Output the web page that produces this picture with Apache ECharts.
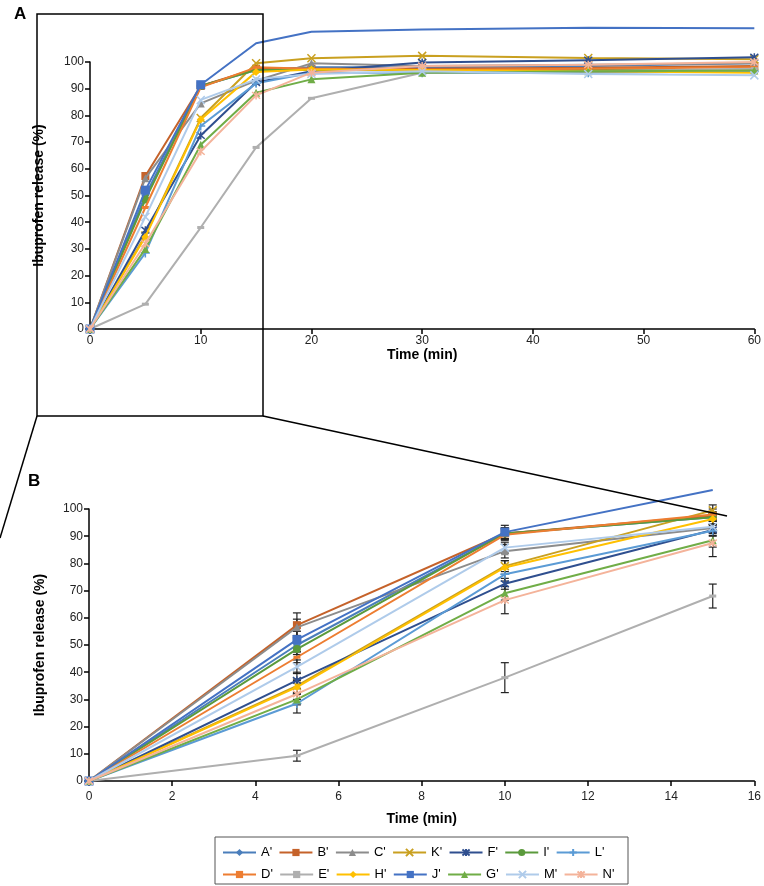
<!DOCTYPE html>
<html><head><meta charset="utf-8">
<script src="https://cdn.jsdelivr.net/npm/echarts@6/dist/echarts.min.js"></script>
<style>html,body{margin:0;padding:0;background:#fff}#c{width:764px;height:886px}</style>
</head><body><div id="c"></div>
<script>
// Time points (min)
const timesA = [0, 5, 10, 15, 20, 30, 45, 60];
const timesB = [0, 5, 10, 15];
const xTicksA = [0, 10, 20, 30, 40, 50, 60];
const xTicksB = [0, 2, 4, 6, 8, 10, 12, 14, 16];

// Legend order (two rows)
const legendRow1 = ["A'", "B'", "C'", "K'", "F'", "I'", "L'"];
const legendRow2 = ["D'", "E'", "H'", "J'", "G'", "M'", "N'"];

// Release (%) at timesA
const relA = [0, 50.0, 91.0, 97.0, 98.0, 98.0, 98.5, 99.5];
const relB = [0, 57.3, 91.0, 97.5, 97.5, 97.5, 97.8, 98.5];
const relC = [0, 56.5, 84.5, 93.0, 99.5, 98.5, 99.0, 99.5];
const relK = [0, 35.0, 79.0, 99.5, 101.4, 102.3, 101.5, 101.0];
const relF = [0, 37.0, 72.5, 92.3, 96.5, 99.8, 100.7, 101.8];
const relI = [0, 48.5, 91.0, 97.0, 97.0, 97.0, 97.0, 97.0];
const relL = [0, 28.5, 76.0, 92.0, 96.0, 96.0, 96.0, 96.5];
const relD = [0, 45.5, 90.5, 98.0, 97.5, 97.0, 97.5, 98.0];
const relE = [0, 9.3, 38.0, 68.0, 86.4, 96.0, 96.5, 97.5];
const relH = [0, 34.5, 78.5, 96.3, 97.2, 97.0, 96.5, 96.0];
const relJ = [0, 52.0, 91.5, 107.0, 111.3, 112.2, 112.8, 112.6];
const relG = [0, 30.0, 69.0, 88.5, 93.5, 96.0, 96.5, 96.8];
const relM = [0, 42.0, 85.8, 93.5, 95.5, 96.5, 95.5, 95.0];
const relN = [0, 32.0, 66.5, 87.5, 96.0, 98.5, 99.0, 100.0];

// Error (± %) at timesB
const errA = [0, 2.5, 2.0, 1.5];
const errB = [0, 4.5, 2.0, 1.5];
const errC = [0, 3.0, 2.5, 1.5];
const errK = [0, 2.5, 2.0, 2.0];
const errF = [0, 3.0, 2.0, 2.0];
const errI = [0, 2.0, 2.0, 1.5];
const errL = [0, 3.5, 2.5, 2.0];
const errD = [0, 2.0, 2.0, 2.0];
const errE = [0, 2.0, 5.5, 4.4];
const errH = [0, 2.5, 2.5, 2.0];
const errJ = [0, 3.0, 2.5, 0];
const errG = [0, 2.0, 2.5, 2.5];
const errM = [0, 2.5, 2.0, 2.0];
const errN = [0, 2.0, 5.0, 5.0];

const P_X = 'path://M0,0L10,10M10,0L0,10';
const P_PLUS = 'path://M5,0L5,10M0,5L10,5';
const P_AST = 'path://M0,0L10,10M10,0L0,10M5,-1L5,11';
const P_DASH = 'path://M0,0L10,0L10,3L0,3Z';

const defs = [
  {name: "A'", rel: relA, err: errA, color: '#4A7EBB', symbol: 'diamond', size: 8},
  {name: "B'", rel: relB, err: errB, color: '#C5622A', symbol: 'rect', size: 8},
  {name: "C'", rel: relC, err: errC, color: '#8C8C8C', symbol: 'triangle', size: 8},
  {name: "K'", rel: relK, err: errK, color: '#C9A020', symbol: P_X, size: 8, stroke: true},
  {name: "F'", rel: relF, err: errF, color: '#2F4F8F', symbol: P_AST, size: 8, stroke: true},
  {name: "I'", rel: relI, err: errI, color: '#5B9A3C', symbol: 'circle', size: 8},
  {name: "L'", rel: relL, err: errL, color: '#5B9BD5', symbol: P_PLUS, size: 9, stroke: true},
  {name: "D'", rel: relD, err: errD, color: '#ED7D31', symbol: P_DASH, size: [7, 3]},
  {name: "E'", rel: relE, err: errE, color: '#AFAFAF', symbol: P_DASH, size: [7, 3]},
  {name: "H'", rel: relH, err: errH, color: '#FFC000', symbol: 'diamond', size: 8},
  {name: "J'", rel: relJ, err: errJ, color: '#4472C4', symbol: 'rect', size: 9, markUntil: 3},
  {name: "G'", rel: relG, err: errG, color: '#70AD47', symbol: 'triangle', size: 8},
  {name: "M'", rel: relM, err: errM, color: '#AFCBEA', symbol: P_X, size: 8, stroke: true},
  {name: "N'", rel: relN, err: errN, color: '#F4B39A', symbol: P_AST, size: 8, stroke: true}
];

const series = [];
function buildData(d, times) {
  return times.map((t, i) => {
    const item = {value: [t, d.rel[i]]};
    if (d.markUntil !== undefined && i >= d.markUntil) item.symbol = 'none';
    return item;
  });
}
defs.forEach((d, k) => {
  const common = {
    name: d.name, type: 'line', symbol: d.symbol, symbolSize: d.size,
    clip: false, animation: false, z: 3 + k * 0.01,
    lineStyle: {color: d.color, width: 2},
    itemStyle: d.stroke ? {color: d.color, borderColor: d.color, borderWidth: 1.5}
                        : {color: d.color, borderColor: d.color, borderWidth: 0},
    emphasis: {disabled: true}
  };
  series.push(Object.assign({}, common, {xAxisIndex: 0, yAxisIndex: 0, data: buildData(d, timesA)}));
  series.push(Object.assign({}, common, {xAxisIndex: 1, yAxisIndex: 1, data: buildData(d, timesB)}));
});

// error bars (panel B)
const errRows = [];
defs.forEach(d => timesB.forEach((t, i) => { if (d.err[i] > 0) errRows.push([t, d.rel[i], d.err[i]]); }));
series.push({
  name: 'errorbars', type: 'custom', xAxisIndex: 1, yAxisIndex: 1, z: 2, animation: false,
  data: errRows,
  renderItem: function (params, api) {
    const x = api.value(0), y = api.value(1), e = api.value(2);
    const top = api.coord([x, y + e]), bot = api.coord([x, y - e]);
    const w = 4, st = {stroke: '#222', lineWidth: 1.2};
    return {type: 'group', children: [
      {type: 'line', shape: {x1: top[0], y1: top[1], x2: bot[0], y2: bot[1]}, style: st},
      {type: 'line', shape: {x1: top[0] - w, y1: top[1], x2: top[0] + w, y2: top[1]}, style: st},
      {type: 'line', shape: {x1: bot[0] - w, y1: bot[1], x2: bot[0] + w, y2: bot[1]}, style: st}
    ]};
  }
});

const axisLbl = {color: '#222', fontSize: 12, fontFamily: 'Liberation Sans, Arial, sans-serif'};
const nameSt = {color: '#000', fontSize: 14, fontWeight: 'bold', fontFamily: 'Liberation Sans, Arial, sans-serif'};
const axLine = {show: true, onZero: false, lineStyle: {color: '#000', width: 1.5}};
const axTick = {show: true, inside: false, length: 5, lineStyle: {color: '#000', width: 1.5}};

function legendCfg(row, top) {
  return {
    data: row, left: 222, top: top, orient: 'horizontal',
    itemWidth: 33, itemHeight: 9, itemGap: 6.3, padding: 0,
    selectedMode: false,
    textStyle: {color: '#000', fontSize: 13, width: 14, fontFamily: 'Liberation Sans, Arial, sans-serif'}
  };
}

const option = {
  backgroundColor: '#fff',
  animation: false,
  grid: [
    {left: 90, top: 62, width: 667, height: 267, containLabel: false},
    {left: 89, top: 509, width: 668, height: 272, containLabel: false}
  ],
  xAxis: [
    {type: 'value', gridIndex: 0, min: 0, max: 60, interval: 10,
     axisLine: axLine, axisTick: axTick, splitLine: {show: false},
     axisLabel: Object.assign({margin: 6}, axisLbl),
     name: 'Time (min)', nameLocation: 'middle', nameGap: 19, nameTextStyle: nameSt},
    {type: 'value', gridIndex: 1, min: 0, max: 16, interval: 2,
     axisLine: axLine, axisTick: axTick, splitLine: {show: false},
     axisLabel: Object.assign({margin: 10}, axisLbl),
     name: 'Time (min)', nameLocation: 'middle', nameGap: 31, nameTextStyle: nameSt}
  ],
  yAxis: [
    {type: 'value', gridIndex: 0, min: 0, max: 100, interval: 10,
     axisLine: axLine, axisTick: axTick, splitLine: {show: false},
     axisLabel: Object.assign({margin: 6}, axisLbl),
     name: 'Ibuprofen release (%)', nameLocation: 'middle', nameGap: 44, nameTextStyle: nameSt},
    {type: 'value', gridIndex: 1, min: 0, max: 100, interval: 10,
     axisLine: axLine, axisTick: axTick, splitLine: {show: false},
     axisLabel: Object.assign({margin: 6}, axisLbl),
     name: 'Ibuprofen release (%)', nameLocation: 'middle', nameGap: 42, nameTextStyle: nameSt}
  ],
  legend: [legendCfg(legendRow1, 846), legendCfg(legendRow2, 868)],
  graphic: [
    {type: 'text', left: 14, top: 6, z: 50, style: {text: 'A', fontSize: 17, fontWeight: 'bold', fill: '#000', fontFamily: 'Liberation Sans, Arial, sans-serif'}},
    {type: 'text', left: 28, top: 473, z: 50, style: {text: 'B', fontSize: 17, fontWeight: 'bold', fill: '#000', fontFamily: 'Liberation Sans, Arial, sans-serif'}},
    {type: 'rect', z: 50, shape: {x: 37, y: 14, width: 226, height: 402}, style: {fill: 'none', stroke: '#000', lineWidth: 1.5}},
    {type: 'line', z: 50, shape: {x1: 37, y1: 416, x2: 0, y2: 538}, style: {stroke: '#000', lineWidth: 1.5}},
    {type: 'line', z: 50, shape: {x1: 263, y1: 416, x2: 727, y2: 516}, style: {stroke: '#000', lineWidth: 1.5}},
    {type: 'rect', z: 50, shape: {x: 215, y: 837, width: 413, height: 47}, style: {fill: 'none', stroke: '#555', lineWidth: 1}}
  ],
  series: series
};
const chart = echarts.init(document.getElementById('c'), null, {renderer: 'canvas'});
chart.setOption(option);
</script>
</body></html>
